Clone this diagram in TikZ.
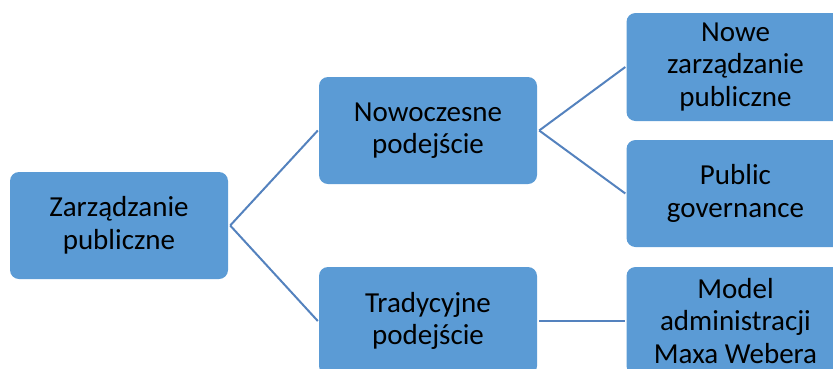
\documentclass[tikz,border=0pt]{standalone}
\usepackage{fontspec}
\setmainfont{Carlito}
\definecolor{boxfill}{HTML}{5B9BD5}
\definecolor{linkcol}{RGB}{84,130,190}
\begin{document}
\begin{tikzpicture}[x=1pt,y=-1pt,
  box/.style={fill=boxfill, draw=none, rounded corners=9pt,
    minimum width=218pt, minimum height=107pt, inner sep=0pt,
    align=center, text=black, font=\fontsize{29}{32.5}\selectfont},
  link/.style={draw=linkcol, line width=2pt}]
  \useasboundingbox (0,0) rectangle (833,368);
  \clip (0,0) rectangle (833,368);
  % hierarchy boxes
  \node[box] (root) at (119,225.5) {Zarządzanie\\publiczne};
  \node[box] (modern) at (428,130.5) {Nowoczesne\\podejście};
  \node[box, minimum height=108pt] (trad) at (428,321) {Tradycyjne\\podejście};
  \node[box, minimum height=108pt] (npm) at (735.5,67) {Nowe\\zarządzanie\\publiczne};
  \node[box] (gov) at (735.5,193.5) {Public\\governance};
  \node[box, minimum height=108pt] (weber) at (735.5,321) {Model\\administracji\\Maxa Webera};
  % connectors
  \draw[link] ([xshift=2pt]root.east) -- ([xshift=-1pt]modern.west);
  \draw[link] ([xshift=2pt]root.east) -- ([xshift=-1pt]trad.west);
  \draw[link] ([xshift=2pt]modern.east) -- ([xshift=-1pt]npm.west);
  \draw[link] ([xshift=2pt]modern.east) -- ([xshift=-1pt]gov.west);
  \draw[link] ([xshift=2pt]trad.east) -- ([xshift=-1pt]weber.west);
\end{tikzpicture}
\end{document}
